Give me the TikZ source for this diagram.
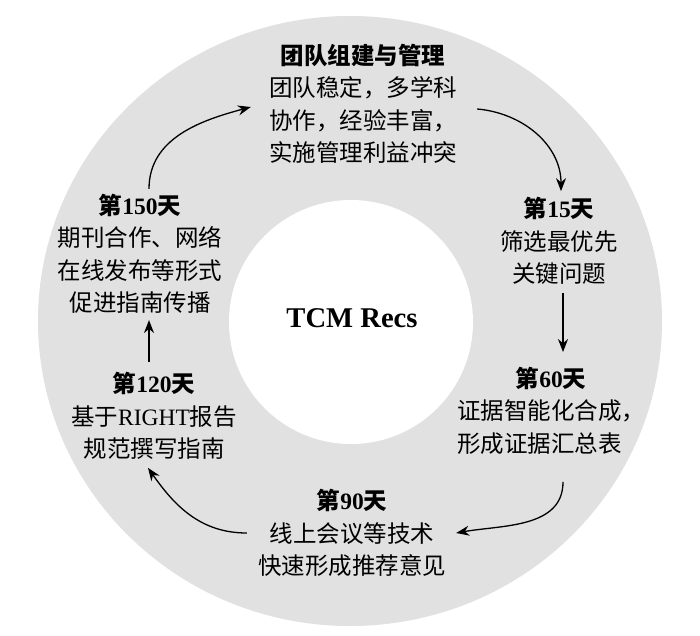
\documentclass[tikz,border=0pt]{standalone}
\usepackage{fontspec}
\setmainfont{Liberation Serif}
\newfontfamily\cjk{Noto Sans CJK SC}
\usetikzlibrary{arrows.meta}
\definecolor{ringgray}{RGB}{225,225,225}
\newcommand\hday[1]{{\bfseries{\cjk 第}#1{\cjk 天}}}

\begin{document}
\begin{tikzpicture}[x=1pt,y=1pt,
	stage/.style={inner sep=0pt, align=center, font=\fontsize{23.5}{32.5}\selectfont},
	flow/.style={-{Stealth[length=13pt,width=10pt]}, line width=1.3pt}]
	\useasboundingbox (0,0) rectangle (700,635);
	% Ring
	\fill[ringgray] (350,314) ellipse (312 and 305);
	\fill[white] (351,313) circle (122);
	\node[font=\fontsize{28.6}{34}\selectfont\bfseries, anchor=base] (core) at (352,308) {TCM Recs};
	% Stages
	\node[stage] (team) at (363,531) {{\bfseries\cjk 团队组建与管理}\\{\cjk 团队稳定，多学科}\\{\cjk 协作，经验丰富，}\\{\cjk 实施管理利益冲突}};
	\node[stage] (d15) at (559,394) {\hday{15}\\{\cjk 筛选最优先}\\{\cjk 关键问题}};
	\node[stage] (d60) at (551,222) {\begin{tabular}{@{}l@{}}\multicolumn{1}{@{}c@{}}{\hday{60}}\\{\cjk 证据智能化合成，}\\{\cjk 形成证据汇总表}\end{tabular}};
	\node[stage] (d90) at (352,102) {\hday{90}\\{\cjk 线上会议等技术}\\{\cjk 快速形成推荐意见}};
	\node[stage] (d120) at (154,219) {\hday{120}\\{\cjk 基于}RIGHT{\cjk 报告}\\{\cjk 规范撰写指南}};
	\node[stage] (d150) at (140,381) {\hday{150}\\{\cjk 期刊合作、网络}\\{\cjk 在线发布等形式}\\{\cjk 促进指南传播}};
	% Arrows
	\draw[flow] ([xshift=9pt,yshift=5pt]d150.north) to[out=90,in=195] ([xshift=-18pt,yshift=-3pt]team.west);
	\draw[flow] ([xshift=20pt,yshift=-5pt]team.east) to[out=-5,in=90] ([xshift=2pt,yshift=6pt]d15.north);
	\draw[flow] ([xshift=4pt,yshift=-8pt]d15.south) -- ([xshift=12pt,yshift=12pt]d60.north);
	\draw[flow] ([xshift=12pt,yshift=-20pt]d60.south) to[out=-90,in=10] ([xshift=10pt]d90.east);
	\draw[flow] ([xshift=-11pt]d90.west) to[out=180,in=-55] ([xshift=-6pt,yshift=-8pt]d120.south);
	\draw[flow] ([xshift=-5pt,yshift=10pt]d120.north) -- ([xshift=9pt,yshift=-6pt]d150.south);
\end{tikzpicture}
\end{document}
